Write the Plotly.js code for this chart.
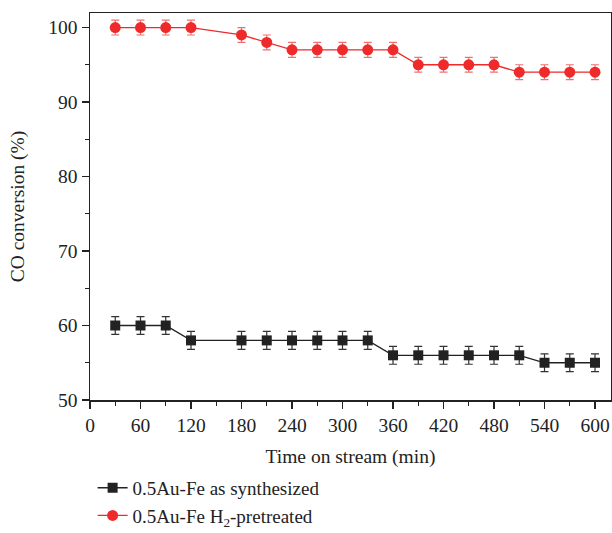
<!DOCTYPE html>
<html><head><meta charset="utf-8">
<script src="https://cdn.plot.ly/plotly-3.0.1.min.js"></script>
<style>body{margin:0;padding:0;background:#fff}#chart{width:612px;height:533px}</style>
</head><body><div id="chart"></div>
<script>
const timeMin = [30,60,90,120,180,210,240,270,300,330,360,390,420,450,480,510,540,570,600];
const asSynth = [60,60,60,58,58,58,58,58,58,58,56,56,56,56,56,56,55,55,55];
const h2Pre = [100,100,100,100,99,98,97,97,97,97,97,95,95,95,95,94,94,94,94];
const errAsSynth = [1.2,1.2,1.2,1.2,1.2,1.2,1.2,1.2,1.2,1.2,1.2,1.2,1.2,1.2,1.2,1.2,1.2,1.2,1.2];
const errH2 = [1,1,1,1,1,1,1,1,1,1,1,1,1,1,1,1,1,1,1];
const xTicks = [0,60,120,180,240,300,360,420,480,540,600];
const yTicks = [50,60,70,80,90,100];
const names = ["0.5Au-Fe as synthesized","0.5Au-Fe H<sub>2</sub>-pretreated"];

const fam = "Liberation Serif, Times New Roman, serif";
const fnt = {family:fam, size:19.5, color:"#222"};
const traces = [
  {x:timeMin, y:asSynth, name:names[0], type:"scatter", mode:"lines+markers",
   line:{color:"#222",width:1.3}, marker:{symbol:"square",size:10,color:"#222"},
   error_y:{type:"data",array:errAsSynth,visible:true,color:"#333",thickness:1.2,width:4}},
  {x:timeMin, y:h2Pre, name:names[1], type:"scatter", mode:"lines+markers",
   line:{color:"#ee2a2a",width:1.3}, marker:{symbol:"circle",size:11,color:"#ee2a2a"},
   error_y:{type:"data",array:errH2,visible:true,color:"#f07070",thickness:1.2,width:4}}
];
const layout = {
  width:612, height:533,
  margin:{l:90,r:1,t:12.5,b:133,autoexpand:false},
  paper_bgcolor:"#fff", plot_bgcolor:"#fff",
  font:fnt,
  showlegend:true,
  legend:{x:0.005,xanchor:"left",y:-0.178,yanchor:"top",orientation:"v",
    font:{family:fam,size:19,color:"#222"},tracegroupgap:0,bgcolor:"rgba(0,0,0,0)"},
  xaxis:{range:[0,619], tickvals:xTicks, ticks:"outside", ticklen:7, tickwidth:1.2, tickcolor:"#222",
    minor:{dtick:30, tick0:0, ticks:"outside", ticklen:4, tickcolor:"#222", showgrid:false},
    showline:true, linecolor:"#222", linewidth:1.5, mirror:true, showgrid:false, zeroline:false,
    title:{text:"Time on stream (min)", font:fnt, standoff:14},
    tickfont:fnt},
  yaxis:{range:[50,101.95], tickvals:yTicks, ticks:"outside", ticklen:7, tickwidth:1.2, tickcolor:"#222",
    minor:{dtick:5, tick0:0, ticks:"outside", ticklen:4, tickcolor:"#222", showgrid:false},
    showline:true, linecolor:"#222", linewidth:1.5, mirror:true, showgrid:false, zeroline:false,
    title:{text:"CO conversion (%)", font:fnt, standoff:18},
    tickfont:fnt}
};
Plotly.newPlot("chart", traces, layout, {displayModeBar:false, staticPlot:true});
</script></body></html>
